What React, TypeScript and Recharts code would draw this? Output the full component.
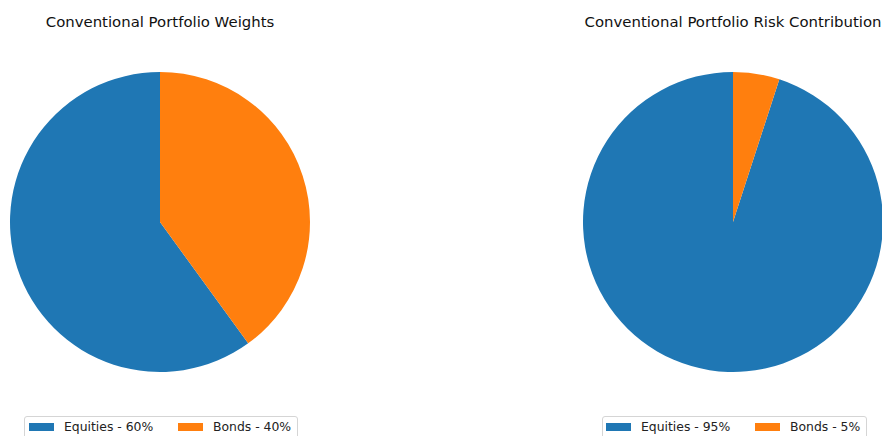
import { PieChart, Pie, Cell } from 'recharts';

const assetClasses = ['Equities', 'Bonds'];
const weightShares = [60, 40];
const riskShares = [95, 5];
const sliceColors = ['#1f77b4', '#ff7f0e'];

const FONT = '"DejaVu Sans", sans-serif';

const toRows = (values: number[]) =>
    assetClasses.map((name, i) => ({ name, value: values[i] }));

const weightRows = toRows(weightShares);
const riskRows = toRows(riskShares);

// legend patch / label x offsets for each panel (box left, items)
const LegendBox = ({ left, width, items, values }: { left: number; width: number; items: number[][]; values: number[] }) => (
    <div
        style={{
            position: 'absolute',
            left,
            top: 416,
            width,
            height: 26,
            border: '1px solid #d5d5d5',
            borderRadius: 3,
            background: '#fff',
            boxSizing: 'border-box',
        }}
    >
        {assetClasses.map((name, i) => (
            <div key={name}>
                <div
                    style={{
                        position: 'absolute',
                        left: items[i][0] - left - 1,
                        top: 6,
                        width: 25,
                        height: 8,
                        background: sliceColors[i],
                    }}
                />
                <div
                    style={{
                        position: 'absolute',
                        left: items[i][1] - left - 1,
                        top: 2,
                        fontSize: 12.4,
                        lineHeight: '16px',
                        whiteSpace: 'nowrap',
                        color: '#222',
                    }}
                >
                    {`${name} - ${values[i]}%`}
                </div>
            </div>
        ))}
    </div>
);

const Title = ({ center, text }: { center: number; text: string }) => (
    <div
        style={{
            position: 'absolute',
            left: center - 200,
            width: 400,
            top: 12,
            textAlign: 'center',
            fontSize: 14.9,
            lineHeight: '20px',
            color: '#111',
            whiteSpace: 'nowrap',
        }}
    >
        {text}
    </div>
);

export default function App() {
    return (
        <div
            style={{
                position: 'fixed',
                left: 0,
                top: 0,
                width: 882,
                height: 436,
                overflow: 'hidden',
                background: '#fff',
                fontFamily: FONT,
            }}
        >
            <PieChart
                width={882}
                height={436}
                margin={{ top: 0, right: 0, bottom: 0, left: 0 }}
                style={{ position: 'absolute', left: 0, top: 0 }}
            >
                <Pie
                    data={weightRows}
                    dataKey="value"
                    nameKey="name"
                    cx={160}
                    cy={222}
                    outerRadius={150}
                    startAngle={90}
                    endAngle={450}
                    stroke="none"
                    isAnimationActive={false}
                >
                    {weightRows.map((row, i) => (
                        <Cell key={`w-${row.name}`} fill={sliceColors[i]} />
                    ))}
                </Pie>
                <Pie
                    data={riskRows}
                    dataKey="value"
                    nameKey="name"
                    cx={733}
                    cy={222}
                    outerRadius={150}
                    startAngle={90}
                    endAngle={450}
                    stroke="none"
                    isAnimationActive={false}
                >
                    {riskRows.map((row, i) => (
                        <Cell key={`r-${row.name}`} fill={sliceColors[i]} />
                    ))}
                </Pie>
            </PieChart>

            <Title center={160} text="Conventional Portfolio Weights" />
            <Title center={733} text="Conventional Portfolio Risk Contribution" />

            <LegendBox left={24} width={274} items={[[29, 64], [178, 213]]} values={weightShares} />
            <LegendBox left={602} width={265} items={[[606, 641], [755, 790]]} values={riskShares} />
        </div>
    );
}
